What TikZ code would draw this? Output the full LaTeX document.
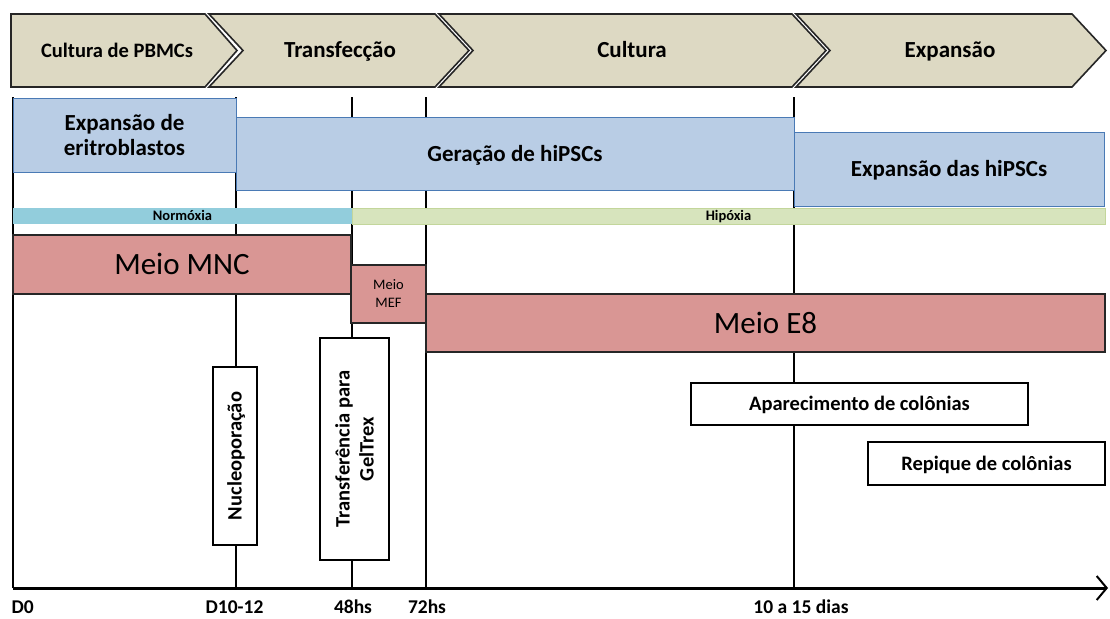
\documentclass[tikz,border=0pt]{standalone}
\usepackage{fontspec}
\setmainfont{Carlito}
\usetikzlibrary{arrows.meta}
\definecolor{Tan}{HTML}{DDD9C3}
\definecolor{Ceu}{HTML}{B9CDE5}
\definecolor{CeuEscuro}{HTML}{4A7AB5}
\definecolor{Agua}{HTML}{92CDDC}
\definecolor{Oliva}{HTML}{D7E4BD}
\definecolor{OlivaEscuro}{HTML}{C3D69B}
\definecolor{Rosa}{HTML}{D99694}
\definecolor{Grafite}{HTML}{262626}
\tikzset{
  caps/.style={text height=#1, text depth=0pt},
  fase/.style={draw=Grafite, line width=1.6pt, fill=Tan, line join=miter},
  fasetxt/.style={caps=15pt, font=\bfseries\fontsize{23}{27}\selectfont},
  bloco/.style={
    draw=CeuEscuro, line width=1pt, fill=Ceu, align=center,
    inner sep=0pt, font=\bfseries\fontsize{23}{25}\selectfont
  },
  faixa/.style={inner sep=0pt, caps=9.5pt, font=\bfseries\fontsize{14.5}{16}\selectfont},
  meio/.style={
    draw=Grafite, line width=1.2pt, fill=Rosa, align=center,
    inner sep=0pt, font=\fontsize{31}{34}\selectfont
  },
  evento/.style={
    draw=black, line width=1.4pt, fill=white, align=center,
    inner sep=0pt, font=\bfseries\fontsize{20.5}{24}\selectfont
  },
  marco/.style={line width=1.8pt, draw=black},
  eixo/.style={line width=3pt, -{Straight Barb[length=10pt,width=24pt,line width=2pt]}},
  data/.style={anchor=base, font=\bfseries\fontsize{19.5}{22}\selectfont}
}

\begin{document}
\begin{tikzpicture}[x=1pt,y=-1pt]
    \useasboundingbox (0,0) rectangle (1110,618);
    % fases
    \draw[fase] (11,14) -- (205,14) -- (237,50.5) -- (205,87) -- (11,87) -- cycle;
    \foreach \xa/\xb in {209/435, 439/792, 796/1072}
      \draw[fase] (\xa,14) -- (\xb,14) -- ++(34,36.5) -- (\xb,87) -- (\xa,87) -- ++(34,-36.5) -- cycle;
    \node[fasetxt,caps=13pt,font=\bfseries\fontsize{20.5}{24}\selectfont] (pbmc) at (117,50.5) {Cultura de PBMCs};
    \node[fasetxt] (transf) at (340,50.5) {Transfecção};
    \node[fasetxt] (cult) at (632,50.5) {Cultura};
    \node[fasetxt] (expa) at (950,50.5) {Expansão};
    % marcos no tempo
    \coordinate (m0) at (13,588);
    \coordinate (m1) at (236,588);
    \coordinate (m2) at (352,588);
    \coordinate (m3) at (426,588);
    \coordinate (m4) at (794,588);
    \coordinate (fim) at (1108,588);
    \foreach \m in {m0,m1,m2,m3,m4}
      \draw[marco] (\m) -- ([yshift=491pt]\m);
    \draw[eixo] (m0) -- (fim);
    % etapas
    \node[bloco,minimum width=223,minimum height=74] (eritro) at (124.5,135) {Expansão de\\eritroblastos};
    \node[bloco,caps=15pt,minimum width=558,minimum height=73] (geracao) at (515,153.5) {Geração de hiPSCs};
    \node[bloco,caps=15pt,minimum width=310,minimum height=74] (exphipsc) at (949,169) {Expansão das hiPSCs};
    \node[faixa,fill=Agua,minimum width=339,minimum height=16] (normo) at (182.5,216) {Normóxia};
    \node[faixa,fill=Oliva,draw=OlivaEscuro,line width=0.8pt,minimum width=753,minimum height=16] (hipo) at (728.5,216) {Hipóxia};
    % meios
    \node[meio,caps=20pt,minimum width=338,minimum height=59] (mnc) at (182,264.5) {Meio MNC};
    \node[meio,minimum width=75,minimum height=58,font=\fontsize{14.5}{18}\selectfont] (mef) at (388.5,294) {Meio\\MEF};
    \node[meio,caps=20pt,minimum width=679,minimum height=58] (e8) at (765.5,323) {Meio E8};
    % eventos
    \node[evento,caps=13pt,rotate=90,minimum width=178,minimum height=44] (nucleo) at (235,456) {Nucleoporação};
    \node[evento,rotate=90,minimum width=222,minimum height=69] (gel) at (354.5,449) {Transferência para\\GelTrex};
    \node[evento,caps=13pt,minimum width=337,minimum height=42] (apar) at (859.5,404) {Aparecimento de colônias};
    \node[evento,caps=13pt,minimum width=237,minimum height=43] (repique) at (986.5,463.5) {Repique de colônias};
    % datas
    \node[data,anchor=base west] (d0) at (8,613) {D0};
    \node[data] (d1) at (234.5,613) {D10-12};
    \node[data] (d2) at (353,613) {48hs};
    \node[data] (d3) at (427,613) {72hs};
    \node[data] (d4) at (801,613) {10 a 15 dias};
  \end{tikzpicture}
\end{document}
